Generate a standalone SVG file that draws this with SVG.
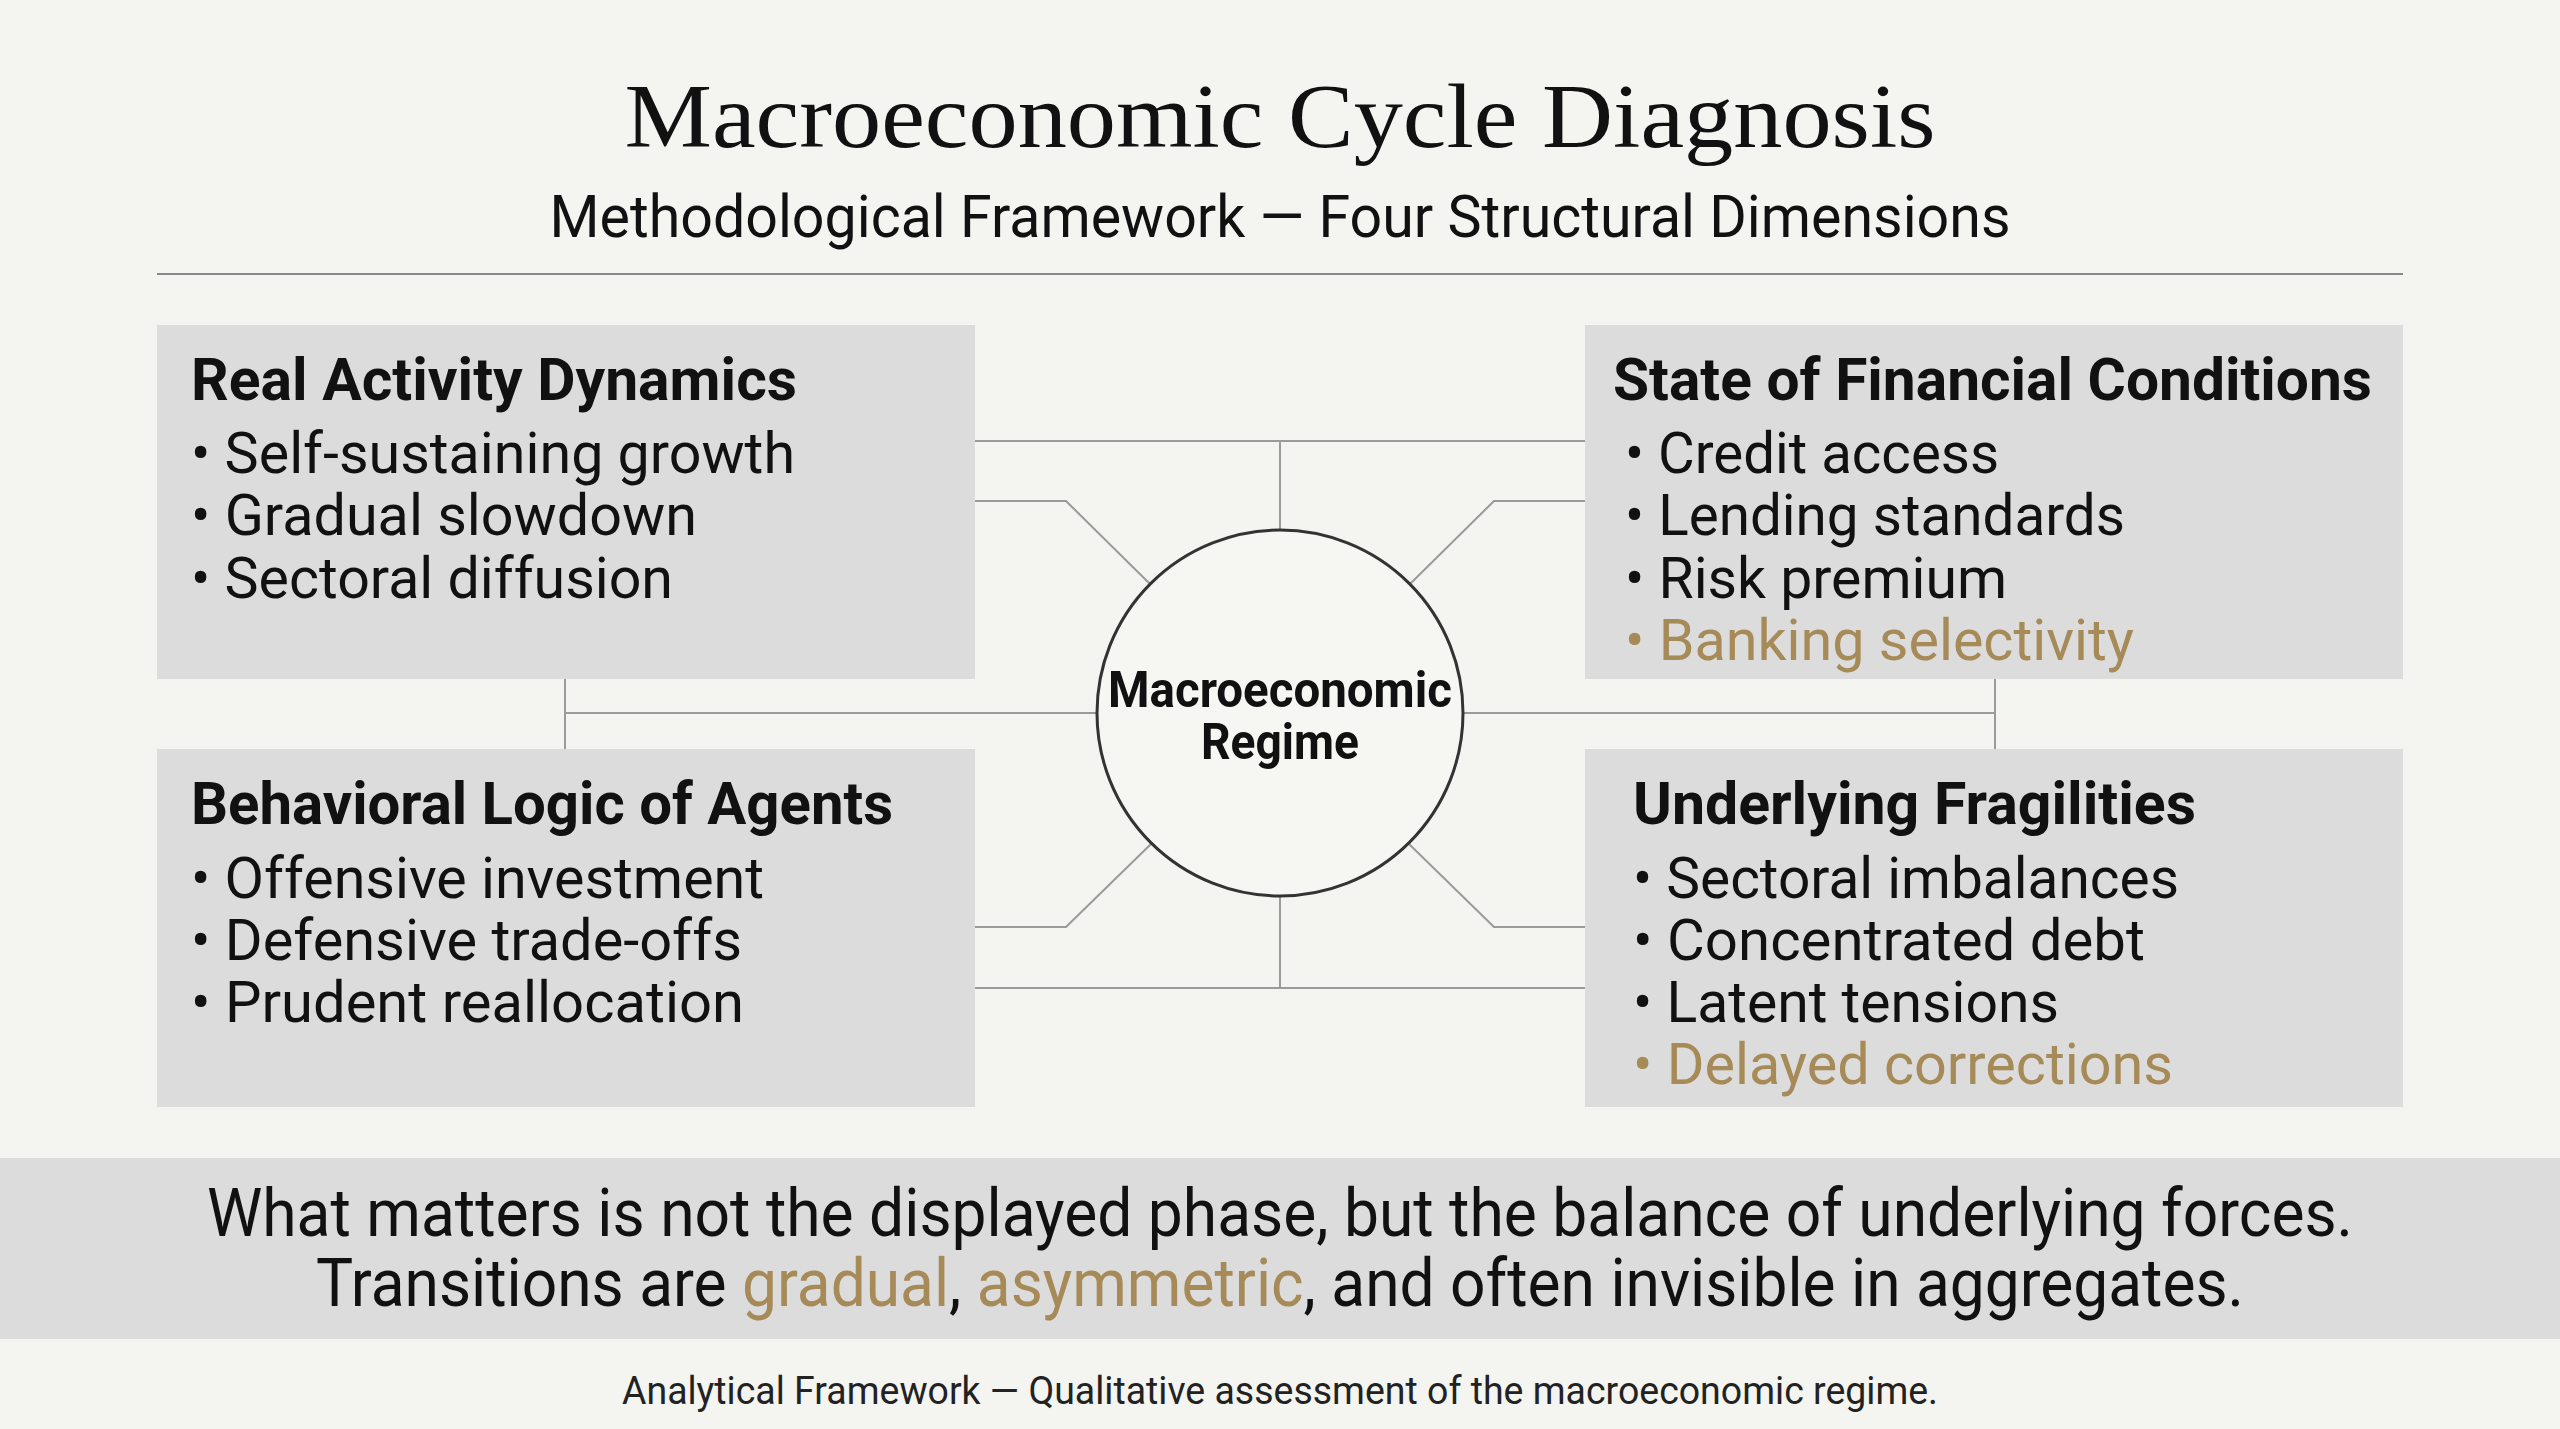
<svg xmlns="http://www.w3.org/2000/svg" width="2560" height="1429" viewBox="0 0 2560 1429">
<style>
.bg{fill:#f4f4f0}
.box{fill:#dcdcdc}
.h{font-family:"Liberation Sans Narrow","Roboto","Liberation Sans",sans-serif;font-weight:bold;font-size:60px;fill:#111}
.b{font-family:"Liberation Sans Narrow","Roboto","Liberation Sans",sans-serif;font-size:58px;fill:#111}
.g{fill:#a68a57}
.c{fill:none;stroke:#9a9a9a;stroke-width:2}
</style>
<rect class="bg" x="0" y="0" width="2560" height="1429"/>
<g id="header">
<text x="1280" y="147" text-anchor="middle" font-family="Liberation Serif,serif" font-size="90" fill="#111" textLength="1311" lengthAdjust="spacingAndGlyphs">Macroeconomic Cycle Diagnosis</text>
<text x="1280" y="237" text-anchor="middle" font-family="Liberation Sans Narrow,Roboto,sans-serif" font-size="60" fill="#111" textLength="1461" lengthAdjust="spacingAndGlyphs">Methodological Framework — Four Structural Dimensions</text>
<line x1="157" y1="274" x2="2403" y2="274" stroke="#888" stroke-width="2"/>
</g>
<g id="connectors">
<path class="c" d="M975 441H1585M1280 441V531"/>
<path class="c" d="M975 501H1066L1151 585M1585 501H1494L1409 585"/>
<path class="c" d="M565 679V749M565 713H1096M1464 713H1995M1995 679V749"/>
<path class="c" d="M975 927H1066L1151 844M1585 927H1494L1409 844"/>
<path class="c" d="M975 988H1585M1280 896V988"/>
</g>
<g id="real-activity">
<rect class="box" x="157" y="325" width="818" height="354"/>
<text class="h" x="191" y="400" textLength="606" lengthAdjust="spacingAndGlyphs">Real Activity Dynamics</text>
<text class="b" x="191" y="473" textLength="604" lengthAdjust="spacingAndGlyphs">• Self-sustaining growth</text>
<text class="b" x="191" y="535" textLength="506" lengthAdjust="spacingAndGlyphs">• Gradual slowdown</text>
<text class="b" x="191" y="598" textLength="482" lengthAdjust="spacingAndGlyphs">• Sectoral diffusion</text>
</g>
<g id="financial-conditions">
<rect class="box" x="1585" y="325" width="818" height="354"/>
<text class="h" x="1613" y="400" textLength="759" lengthAdjust="spacingAndGlyphs">State of Financial Conditions</text>
<text class="b" x="1625" y="473" textLength="374" lengthAdjust="spacingAndGlyphs">• Credit access</text>
<text class="b" x="1625" y="535" textLength="500" lengthAdjust="spacingAndGlyphs">• Lending standards</text>
<text class="b" x="1625" y="598" textLength="382" lengthAdjust="spacingAndGlyphs">• Risk premium</text>
<text class="b g" x="1625" y="660" textLength="509" lengthAdjust="spacingAndGlyphs">• Banking selectivity</text>
</g>
<g id="behavioral-logic">
<rect class="box" x="157" y="749" width="818" height="358"/>
<text class="h" x="191" y="824" textLength="702" lengthAdjust="spacingAndGlyphs">Behavioral Logic of Agents</text>
<text class="b" x="191" y="898" textLength="573" lengthAdjust="spacingAndGlyphs">• Offensive investment</text>
<text class="b" x="191" y="960" textLength="551" lengthAdjust="spacingAndGlyphs">• Defensive trade-offs</text>
<text class="b" x="191" y="1022" textLength="553" lengthAdjust="spacingAndGlyphs">• Prudent reallocation</text>
</g>
<g id="underlying-fragilities">
<rect class="box" x="1585" y="749" width="818" height="358"/>
<text class="h" x="1633" y="824" textLength="563" lengthAdjust="spacingAndGlyphs">Underlying Fragilities</text>
<text class="b" x="1633" y="898" textLength="546" lengthAdjust="spacingAndGlyphs">• Sectoral imbalances</text>
<text class="b" x="1633" y="960" textLength="512" lengthAdjust="spacingAndGlyphs">• Concentrated debt</text>
<text class="b" x="1633" y="1022" textLength="426" lengthAdjust="spacingAndGlyphs">• Latent tensions</text>
<text class="b g" x="1633" y="1084" textLength="540" lengthAdjust="spacingAndGlyphs">• Delayed corrections</text>
</g>
<g id="regime">
<circle cx="1280" cy="713" r="183" fill="#f6f6f2" stroke="#333" stroke-width="3"/>
<text x="1280" y="707" text-anchor="middle" font-family="Liberation Sans Narrow,Roboto,sans-serif" font-weight="bold" font-size="50" fill="#111" textLength="344" lengthAdjust="spacingAndGlyphs">Macroeconomic</text>
<text x="1280" y="759" text-anchor="middle" font-family="Liberation Sans Narrow,Roboto,sans-serif" font-weight="bold" font-size="50" fill="#111" textLength="158" lengthAdjust="spacingAndGlyphs">Regime</text>
</g>
<g id="conclusion">
<rect class="box" x="0" y="1158" width="2560" height="181"/>
<text x="1280" y="1236" text-anchor="middle" font-family="Liberation Sans Narrow,Roboto,sans-serif" font-size="66" fill="#111" textLength="2146" lengthAdjust="spacingAndGlyphs">What matters is not the displayed phase, but the balance of underlying forces.</text>
<text x="1280" y="1306" text-anchor="middle" font-family="Liberation Sans Narrow,Roboto,sans-serif" font-size="66" fill="#111" textLength="1928" lengthAdjust="spacingAndGlyphs">Transitions are <tspan class="g">gradual</tspan>, <tspan class="g">asymmetric</tspan>, and often invisible in aggregates.</text>
</g>
<g id="footer">
<text x="1280" y="1404" text-anchor="middle" font-family="Liberation Sans Narrow,Roboto,sans-serif" font-size="38" fill="#222" textLength="1316" lengthAdjust="spacingAndGlyphs">Analytical Framework — Qualitative assessment of the macroeconomic regime.</text>
</g>
</svg>
